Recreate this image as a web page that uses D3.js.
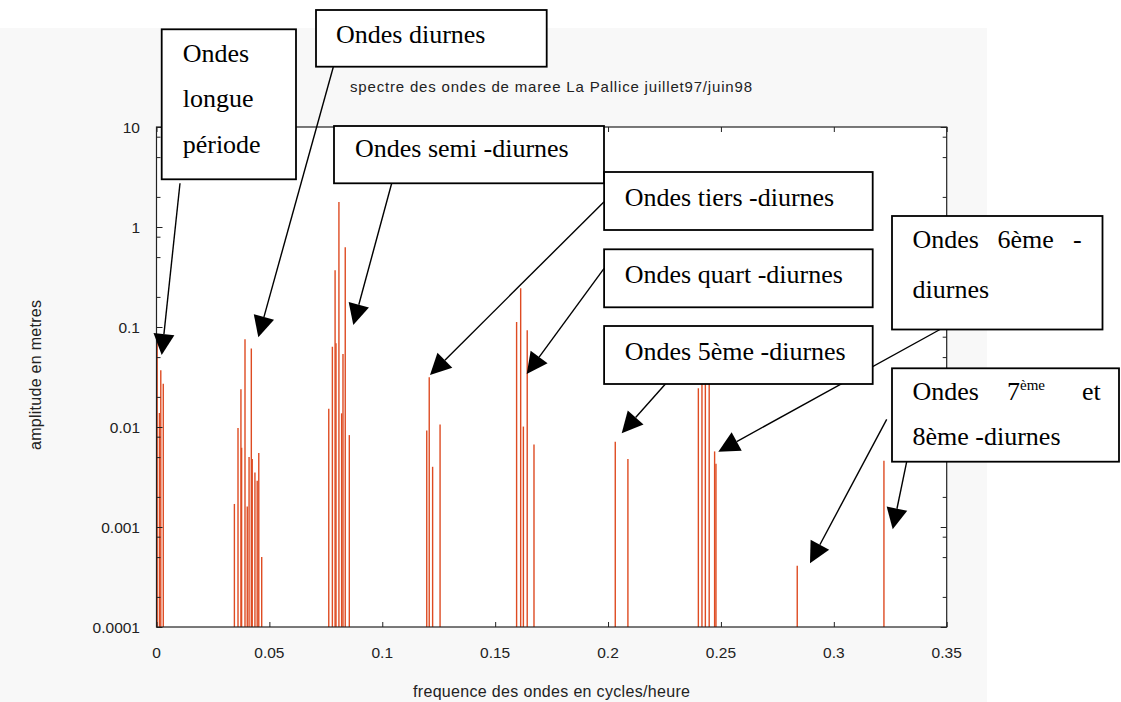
<!DOCTYPE html>
<html><head><meta charset="utf-8">
<script src="https://cdn.jsdelivr.net/npm/d3@7"></script>
<style>html,body{margin:0;padding:0;background:#fff;}svg{display:block}
.serif{font-family:"Liberation Serif","Times New Roman",serif;}
.sans{font-family:"Liberation Sans",Arial,Helvetica,sans-serif;}
</style>
</head><body>
<svg id="chart" width="1121" height="702"></svg>
<script>
// ---- data ----
const frequencies = [
  0.0003, 0.0013, 0.0019, 0.0030,
  0.0345, 0.0361, 0.0374, 0.0377, 0.0392, 0.0402, 0.0410, 0.0420, 0.0424, 0.0436, 0.0446, 0.0453, 0.0466,
  0.0763, 0.0779, 0.0791, 0.0795, 0.0808, 0.0820, 0.0826, 0.0836, 0.0854,
  0.1197, 0.1208, 0.1223, 0.1256,
  0.1595, 0.1613, 0.1625, 0.1642, 0.1672,
  0.2032, 0.2088,
  0.2400, 0.2416, 0.2431, 0.2448, 0.2472, 0.2478,
  0.2838, 0.3222
];
const amplitudes = [
  0.070, 0.0138, 0.037, 0.027,
  0.0017, 0.0098, 0.0238, 0.0062, 0.0753, 0.0016, 0.0050, 0.061, 0.0048, 0.0035, 0.0029, 0.0055, 0.0005,
  0.0152, 0.0636, 0.37, 0.0687, 1.78, 0.0137, 0.0537, 0.626, 0.0083,
  0.0092, 0.0314, 0.0040, 0.0106,
  0.112, 0.244, 0.0101, 0.093, 0.0067,
  0.0071, 0.0048,
  0.0244, 0.045, 0.030, 0.040, 0.0057, 0.0043,
  0.00041, 0.0046
];
const xTickValues = [0, 0.05, 0.1, 0.15, 0.2, 0.25, 0.3, 0.35];
const xTickLabels = ["0", "0.05", "0.1", "0.15", "0.2", "0.25", "0.3", "0.35"];
const yTickValues = [10, 1, 0.1, 0.01, 0.001, 0.0001];
const yTickLabels = ["10", "1", "0.1", "0.01", "0.001", "0.0001"];
const chartTitle = "spectre des ondes de maree La Pallice juillet97/juin98";
const xAxisTitle = "frequence des ondes en cycles/heure";
const yAxisTitle = "amplitude en metres";
const annotationLabels = [
  ["Ondes", "longue", "période"],
  ["Ondes diurnes"],
  ["Ondes semi -diurnes"],
  ["Ondes tiers -diurnes"],
  ["Ondes quart -diurnes"],
  ["Ondes 5ème -diurnes"],
  ["Ondes|6ème|-", "diurnes"],
  ["Ondes|7^ème|et", "8ème -diurnes"]
];

// ---- layout ----
const W = 1121, H = 702;
const plot = {left: 156.5, right: 946.7, top: 127, bottom: 627};
const svg = d3.select("#chart");
const x = d3.scaleLinear().domain([0, 0.35]).range([plot.left, plot.right]);
const y = d3.scaleLog().domain([1e-4, 10]).range([plot.bottom, plot.top]);

// figure background
svg.append("rect").attr("x", 0).attr("y", 0).attr("width", W).attr("height", H).attr("fill", "#ffffff");
svg.append("rect").attr("x", 0).attr("y", 28).attr("width", 987).attr("height", H - 28).attr("fill", "#f8f8f8");
svg.append("rect").attr("x", plot.left).attr("y", plot.top)
  .attr("width", plot.right - plot.left).attr("height", plot.bottom - plot.top).attr("fill", "#ffffff");

// bars (stems)
svg.append("g").selectAll("line").data(frequencies.map((f, i) => ({f, a: amplitudes[i]})))
  .join("line")
  .attr("x1", d => x(d.f)).attr("x2", d => x(d.f))
  .attr("y1", y(1e-4)).attr("y2", d => y(d.a))
  .attr("stroke", "#de4b22").attr("stroke-width", 1.4);

// axes (ticks inside, matlab style)
const axisColor = "#222";
const minorVals = [];
for (let e = -4; e < 1; e++) for (const m of [2, 5, 8]) minorVals.push(m * Math.pow(10, e));

function styleAxis(g) {
  g.select(".domain").remove();
  g.selectAll(".tick line").attr("stroke", axisColor);
}
svg.append("g").attr("transform", `translate(${plot.left},0)`)
  .call(d3.axisRight(y).tickValues(yTickValues).tickSize(6).tickFormat("")).call(styleAxis);
svg.append("g").attr("transform", `translate(${plot.left},0)`)
  .call(d3.axisRight(y).tickValues(minorVals).tickSize(4).tickFormat("")).call(styleAxis);
svg.append("g").attr("class", "sans").selectAll("text").data(yTickValues).join("text")
  .attr("x", 140).attr("y", d => y(d)).attr("dy", "0.36em")
  .attr("text-anchor", "end").attr("font-size", "15.5px").attr("fill", "#222")
  .text((d, i) => yTickLabels[i]);
svg.append("g").attr("transform", `translate(${plot.right},0)`)
  .call(d3.axisLeft(y).tickValues(yTickValues).tickSize(6).tickFormat("")).call(styleAxis);
svg.append("g").attr("transform", `translate(${plot.right},0)`)
  .call(d3.axisLeft(y).tickValues(minorVals).tickSize(4).tickFormat("")).call(styleAxis);
svg.append("g").attr("transform", `translate(0,${plot.bottom})`)
  .call(d3.axisTop(x).tickValues(xTickValues).tickSize(5).tickFormat("")).call(styleAxis);
svg.append("g").attr("transform", `translate(0,${plot.top})`)
  .call(d3.axisBottom(x).tickValues(xTickValues).tickSize(5).tickFormat("")).call(styleAxis);
svg.append("g").attr("class", "sans").selectAll("text").data(xTickValues).join("text")
  .attr("x", d => x(d)).attr("y", 658)
  .attr("text-anchor", "middle").attr("font-size", "15.5px").attr("fill", "#222")
  .text((d, i) => xTickLabels[i]);

// frame
svg.append("rect").attr("x", plot.left).attr("y", plot.top)
  .attr("width", plot.right - plot.left).attr("height", plot.bottom - plot.top)
  .attr("fill", "none").attr("stroke", axisColor).attr("stroke-width", 1.2);

// titles
svg.append("text").attr("class", "sans").attr("x", 350).attr("y", 92).attr("font-size", "15px")
  .attr("fill", "#222").attr("textLength", 402).attr("lengthAdjust", "spacing").text(chartTitle);
svg.append("text").attr("class", "sans").attr("x", 413).attr("y", 697).attr("font-size", "16px")
  .attr("fill", "#222").attr("textLength", 277).attr("lengthAdjust", "spacing").text(xAxisTitle);
svg.append("text").attr("class", "sans").attr("transform", "translate(41,450) rotate(-90)")
  .attr("font-size", "16px").attr("fill", "#222").attr("textLength", 150).attr("lengthAdjust", "spacing")
  .text(yAxisTitle);

// ---- annotations ----
const boxes = [
  {x: 161.7, y: 29.3, w: 134.3, h: 150, tx: 182.7, lines: [61.7, 107, 153.3]},
  {x: 316, y: 10, w: 230.7, h: 56.7, tx: 336, lines: [43.3]},
  {x: 334, y: 126, w: 270, h: 57.3, tx: 355, lines: [157.3]},
  {x: 604.1, y: 172, w: 268.6, h: 58, tx: 624.8, lines: [206]},
  {x: 604.1, y: 249.3, w: 268.6, h: 58, tx: 624.8, lines: [282.7]},
  {x: 604.1, y: 326, w: 268.6, h: 58, tx: 624.8, lines: [360]},
  {x: 892, y: 216, w: 210.5, h: 113.5, tx: 912.5, lines: [248, 297.5], words: [912.5, 997.5, 1073]},
  {x: 892, y: 368.3, w: 227, h: 93.4, tx: 912.5, lines: [400, 445], words: [912.5, 1007, 1082]}
];
const arrows = [
  [180, 183.3, 161.7, 355],
  [333.3, 67, 258.3, 337.3],
  [391.7, 183.3, 353.3, 325],
  [604.1, 201.7, 430, 375],
  [604.1, 268.3, 526.7, 374],
  [665.4, 384, 621.7, 433.3],
  [940, 329.5, 718.3, 451.7],
  [886.7, 419.3, 810, 563.3],
  [906.7, 461.7, 892.7, 529.3]
];
const ag = svg.append("g");
arrows.forEach(([x1, y1, x2, y2]) => {
  const dx = x2 - x1, dy = y2 - y1, len = Math.hypot(dx, dy);
  const ux = dx / len, uy = dy / len, L = 21, hw = 10.5;
  const bx = x2 - ux * L, by = y2 - uy * L;
  ag.append("line").attr("x1", x1).attr("y1", y1).attr("x2", bx).attr("y2", by)
    .attr("stroke", "#000").attr("stroke-width", 1.4);
  ag.append("path").attr("d", `M${x2},${y2}L${bx - uy * hw},${by + ux * hw}L${bx + uy * hw},${by - ux * hw}Z`)
    .attr("fill", "#000");
});
const bg = svg.append("g");
boxes.forEach((b, i) => {
  bg.append("rect").attr("x", b.x).attr("y", b.y).attr("width", b.w).attr("height", b.h)
    .attr("fill", "#fff").attr("stroke", "#000").attr("stroke-width", 1.8);
  annotationLabels[i].forEach((ln, j) => {
    const t = bg.append("text").attr("class", "serif").attr("y", b.lines[j])
      .attr("font-size", "26px").attr("fill", "#000");
    if (ln.includes("|") && b.words) {
      ln.split("|").forEach((w, k) => {
        if (w.includes("^")) {
          const [base, sup] = w.split("^");
          t.append("tspan").attr("x", b.words[k]).attr("y", b.lines[j]).text(base);
          t.append("tspan").attr("y", b.lines[j] - 10).attr("font-size", "15px").text(sup);
        } else {
          t.append("tspan").attr("x", b.words[k]).attr("y", b.lines[j]).text(w);
        }
      });
    } else {
      t.attr("x", b.tx).text(ln);
    }
  });
});
</script>
</body></html>
